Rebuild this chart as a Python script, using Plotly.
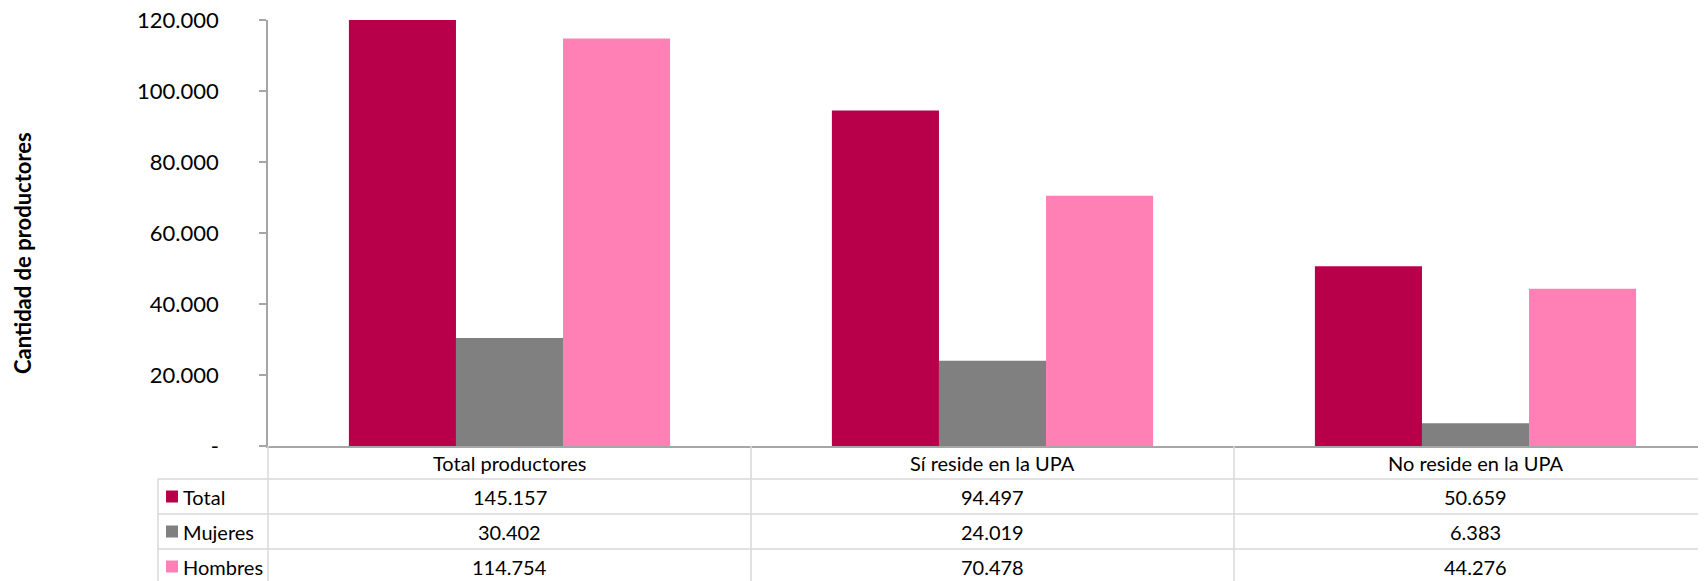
import plotly.graph_objects as go

categories = ["Total productores", "Sí reside en la UPA", "No reside en la UPA"]
series_names = ["Total", "Mujeres", "Hombres"]
total = [145157, 94497, 50659]
mujeres = [30402, 24019, 6383]
hombres = [114754, 70478, 44276]
y_ticks = [0, 20000, 40000, 60000, 80000, 100000, 120000]
y_ticktext = ["-", "20.000", "40.000", "60.000", "80.000", "100.000", "120.000"]
colors = ["#B8004A", "#808080", "#FF80B4"]

OFF = 8  # browser body margin
W, H = 1706 - OFF, 581 - OFF
L, T = 268 - OFF, 20 - OFF
ZERO = 446 - OFF
B = H - ZERO
plot_w = W - L
plot_h = H - T - B
cat_px = 483
x_max = -0.5 + plot_w / cat_px

FONT = "Lato, 'Open Sans', sans-serif"
GRID = "#D9D9D9"
AXIS = "#A6A6A6"

def fmt(v):
    return f"{v:,}".replace(",", ".")

def py(p):  # reference pixel y -> paper y
    return (446 - p) / plot_h

def px(p):  # reference pixel x -> paper x
    return (p - 268) / plot_w

fig = go.Figure()
series = [total, mujeres, hombres]
for name, vals, c in zip(series_names, series, colors):
    fig.add_trace(go.Bar(x=list(range(len(categories))), y=vals, name=name,
                         marker=dict(color=c, line=dict(width=0)), showlegend=False))

shapes = []
annotations = []
row_tops = [446, 479, 514, 549, 584]
for r in row_tops[1:]:
    shapes.append(dict(type="line", xref="paper", yref="paper", x0=px(158), x1=1.0,
                       y0=py(r), y1=py(r), line=dict(color=GRID, width=1.5), layer="below"))
shapes.append(dict(type="line", xref="paper", yref="paper", x0=px(158), x1=px(158),
                   y0=py(row_tops[1]), y1=py(row_tops[-1]), line=dict(color=GRID, width=1.5)))
shapes.append(dict(type="line", xref="paper", yref="paper", x0=0, x1=0,
                   y0=0, y1=py(row_tops[-1]), line=dict(color=GRID, width=1.5)))
for k in range(1, len(categories)):
    shapes.append(dict(type="line", xref="x", yref="paper", x0=k - 0.5, x1=k - 0.5,
                       y0=0, y1=py(row_tops[-1]), line=dict(color=GRID, width=1.5)))

TFS = 20
for k, c in enumerate(categories):
    annotations.append(dict(x=k, y=py((row_tops[0] + row_tops[1]) / 2), xref="x", yref="paper",
                            text=c, showarrow=False, font=dict(size=TFS, color="#000000", family=FONT),
                            xanchor="center", yanchor="middle"))
for i, (name, vals, c) in enumerate(zip(series_names, series, colors)):
    top, bot = row_tops[i + 1], row_tops[i + 2]
    mid = (top + bot) / 2
    shapes.append(dict(type="rect", xref="paper", yref="paper", x0=px(166), x1=px(178),
                       y0=py(mid - 6), y1=py(mid + 6), fillcolor=c, line=dict(width=0)))
    annotations.append(dict(x=px(181), y=py(mid), xref="paper", yref="paper", text=name,
                            showarrow=False, font=dict(size=TFS, color="#000000", family=FONT),
                            xanchor="left", yanchor="middle"))
    for k, v in enumerate(vals):
        annotations.append(dict(x=k, y=py(mid), xref="x", yref="paper", text=fmt(v),
                                showarrow=False, font=dict(size=TFS, color="#000000", family=FONT),
                                xanchor="center", yanchor="middle"))

annotations.append(dict(x=px(22), y=py(253), xref="paper", yref="paper",
                        text="<b>Cantidad de productores</b>", textangle=-90, showarrow=False,
                        font=dict(size=22, color="#000000", family=FONT),
                        xanchor="center", yanchor="middle"))

fig.update_layout(
    width=W, height=H, autosize=False,
    margin=dict(l=L, r=0, t=T, b=B, pad=0, autoexpand=False),
    paper_bgcolor="white", plot_bgcolor="white",
    barmode="group", bargap=0.335, bargroupgap=0,
    font=dict(family=FONT, color="#000000"),
    xaxis=dict(range=[-0.5, x_max], showticklabels=False, showgrid=False, zeroline=False,
               showline=True, linecolor=AXIS, linewidth=1.5, ticks="", automargin=False),
    yaxis=dict(range=[0, 120000], tickvals=y_ticks, ticktext=y_ticktext, showgrid=False,
               zeroline=False, showline=True, linecolor=AXIS, linewidth=1.5,
               ticks="outside", ticklen=7, tickcolor=AXIS, tickwidth=1.5,
               ticklabeloverflow="allow", automargin=False,
               ticklabelstandoff=36, tickfont=dict(size=22, color="#000000", family=FONT)),
    shapes=shapes, annotations=annotations,
)

fig.write_html("out.html")
